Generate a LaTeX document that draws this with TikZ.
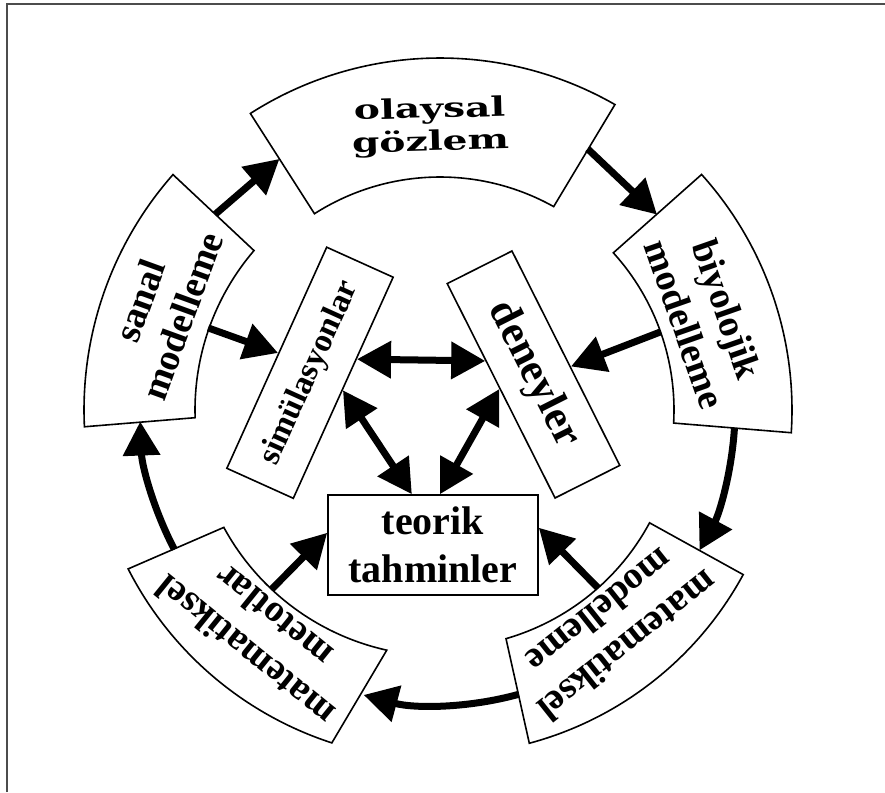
\documentclass[tikz,border=0pt]{standalone}
\usepackage{fontspec}
\setmainfont{Liberation Serif}
\newfontfamily\olfont{DejaVu Serif}[FakeStretch=1.45]
\usetikzlibrary{arrows.meta,calc}
\tikzset{
  boxline/.style={draw=black, line width=1.6pt},
  arr/.style={line width=7pt, -{Triangle[length=34pt,width=36pt]}},
  darr/.style={line width=7pt, {Triangle[length=34pt,width=36pt]}-{Triangle[length=34pt,width=36pt]}},
  ringtext/.style={align=center, font=\bfseries\fontsize{38}{45}\selectfont, inner sep=0pt},
  rectbox/.style={draw, line width=1.6pt, inner sep=0pt, align=center},
}
% #1 a1 inner, #2 a2 inner, #3 r inner, #4 a1 outer, #5 a2 outer, #6 r outer
\newcommand\ringsector[6]{%
  \draw[boxline] ($(C)+(#1:#3pt)$) arc[start angle=#1,end angle=#2,radius=#3pt]
    -- ($(C)+(#5:#6pt)$) arc[start angle=#5,end angle=#4,radius=#6pt] -- cycle;}
\begin{document}
\begin{tikzpicture}[x=1pt,y=1pt]
\useasboundingbox (0,0) rectangle (885,-792);
\fill[white] (0,0) rectangle (885,-792);
\draw[line width=2pt, draw=black!70] (7,-792) -- (7,-4) -- (885,-4);
\coordinate (C) at (440,-410);

% ring boxes
\ringsector{60.8}{122.6}{233}{60.2}{122.6}{352}
\ringsector{139.4}{181.8}{245}{138.6}{182.7}{356}
\ringsector{-3.2}{42.2}{234}{-3.7}{42}{352}
\ringsector{-73.9}{-28.3}{238}{-75}{-28.5}{345}
\ringsector{208.5}{257.5}{246}{207}{252}{350}

% ring texts
\node[align=center, inner sep=0pt, font=\olfont\bfseries\fontsize{27}{33}\selectfont, rotate=1.5] (olay) at ($(C)+(92:283pt)$) {olaysal\\gözlem};
\node[ringtext, rotate=70] (sanal) at ($(C)+(160:297pt)$) {sanal\\modelleme};
\node[ringtext, rotate=-70.7] (biyo) at ($(C)+(19.3:282pt)$) {biyolojik\\modelleme};
\node[ringtext, rotate=-141.5] (matmod) at ($(C)+(-51.5:280pt)$) {matematiksel\\modelleme};
\node[ringtext, rotate=141] (matmet) at ($(C)+(231:288pt)$) {matematiksel\\metotlar};

% inner boxes
\node[rectbox, minimum width=210pt, minimum height=100pt, font=\bfseries\fontsize{40}{48}\selectfont] (teo) at (433,-545) {teorik\\tahminler};
\node[rectbox, rotate=65.7, minimum width=242.6pt, minimum height=72.9pt, font=\bfseries\fontsize{33}{36}\selectfont] (sim) at (310,-372.75) {simülasyonlar};
\node[rectbox, rotate=-63.3, minimum width=240pt, minimum height=72.5pt, font=\bfseries\fontsize{43}{46}\selectfont] (den) at (533.5,-374.5) {deneyler};

% connector end points on ring boxes
\coordinate (sanTop) at ($(C)+(138.9:298pt)$);
\coordinate (olL) at ($(C)+(122.6:298pt)$);
\coordinate (olR) at ($(C)+(60.5:300pt)$);
\coordinate (biT) at ($(C)+(42:292pt)$);
\coordinate (biB) at ($(C)+(-3.5:295pt)$);
\coordinate (mmL) at ($(C)+(-74.5:295pt)$);
\coordinate (mtT) at ($(C)+(207.7:300pt)$);
\coordinate (sanI) at ($(C)+(160.5:246pt)$);
\coordinate (biI) at ($(C)+(19.5:234pt)$);
\coordinate (mtI) at ($(C)+(226.8:246pt)$);
\coordinate (mmI) at ($(C)+(-48.4:238pt)$);

% connector end points on inner boxes
\coordinate (simN) at ($(sim.north west)!0.52!(sim.north east)$);
\coordinate (simS1) at ($(sim.south west)!0.63!(sim.south east)$);
\coordinate (simS2) at ($(sim.south west)!0.49!(sim.south east)$);
\coordinate (denN) at ($(den.north west)!0.54!(den.north east)$);
\coordinate (denS1) at ($(den.south west)!0.36!(den.south east)$);
\coordinate (denS2) at ($(den.south west)!0.49!(den.south east)$);
\coordinate (teoT1) at ($(teo.north west)!0.40!(teo.north east)$);
\coordinate (teoT2) at ($(teo.north west)!0.533!(teo.north east)$);
\coordinate (teoL) at ($(teo.north west)!0.38!(teo.south west)$);
\coordinate (teoR) at ($(teo.north east)!0.33!(teo.south east)$);

% outer cycle
\draw[arr] (sanTop) -- (olL);
\draw[arr] (olR) -- (biT);
\draw[arr] (biB) arc[start angle=-3.5, end angle=-28.4, radius=295pt];
\draw[arr] (mmL) arc[start angle=-74.5, end angle=-105, radius=295pt];
\draw[arr] (mtT) arc[start angle=207.7, end angle=182.2, radius=300pt];

% inward arrows
\draw[arr] (sanI) -- (simN);
\draw[arr] (biI) -- (denN);
\draw[arr] (mtI) -- (teoL);
\draw[arr] (mmI) -- (teoR);

% double arrows
\draw[darr] (simS1) -- (denS1);
\draw[darr] (simS2) -- (teoT1);
\draw[darr] (denS2) -- (teoT2);
\end{tikzpicture}
\end{document}
